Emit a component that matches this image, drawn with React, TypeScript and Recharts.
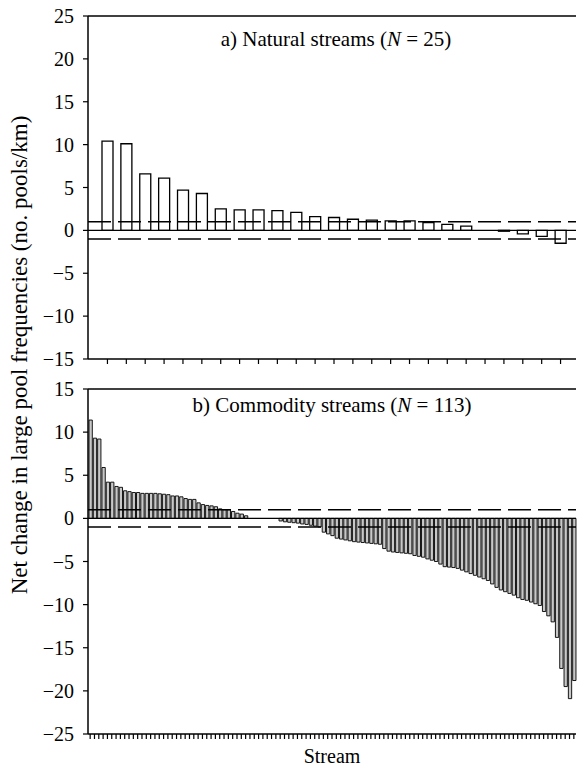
import React from 'react';
import { BarChart, Bar, XAxis, YAxis, ReferenceLine, Label } from 'recharts';

const FONT = 'Liberation Serif, Tinos, DejaVu Serif, serif';

// a) Natural streams, sorted net change (no. pools/km)
const naturalValues = [
  10.4, 10.1, 6.6, 6.1, 4.7, 4.3, 2.5, 2.4, 2.4, 2.3,
  2.1, 1.6, 1.5, 1.3, 1.2, 1.1, 1.1, 0.9, 0.7, 0.5,
  0, -0.1, -0.4, -0.7, -1.5,
];

// b) Commodity streams, sorted net change (no. pools/km)
const commodityValues = [
  11.4, 9.3, 9.2, 5.9, 4.2, 4.2, 3.7, 3.6, 3.2, 3.1,
  3.0, 3.0, 2.9, 2.9, 2.9, 2.9, 2.85, 2.8, 2.75, 2.6,
  2.6, 2.5, 2.3, 2.2, 2.2, 1.8, 1.6, 1.5, 1.45, 1.35,
  1.1, 1.0, 1.0, 0.8, 0.6, 0.5, 0.3, 0, 0, 0,
  0, 0, 0, 0, -0.3, -0.4, -0.45, -0.5, -0.55, -0.65,
  -0.7, -0.8, -0.9, -1.0, -1.6, -1.8, -2.0, -2.3, -2.4, -2.5,
  -2.6, -2.7, -2.75, -2.8, -2.85, -2.9, -2.95, -3.0, -3.5, -3.8,
  -3.9, -3.95, -4.0, -4.05, -4.1, -4.3, -4.4, -4.5, -4.7, -4.85,
  -5.0, -5.3, -5.6, -5.65, -5.7, -5.8, -6.0, -6.2, -6.4, -6.6,
  -6.8, -7.0, -7.2, -7.6, -8.0, -8.3, -8.5, -8.7, -8.9, -9.2,
  -9.4, -9.5, -9.7, -9.9, -10.1, -10.8, -11.3, -12.0, -13.8, -17.4,
  -19.5, -20.9, -18.8,
];

const naturalTicks = [25, 20, 15, 10, 5, 0, -5, -10, -15];
const commodityTicks = [15, 10, 5, 0, -5, -10, -15, -20, -25];
const thresholds = [1, -1];

const naturalTitle = ['a) Natural streams (', 'N', ' = 25)'];
const commodityTitle = ['b) Commodity streams (', 'N', ' = 113)'];
const yLabel = 'Net change in large pool frequencies (no. pools/km)';
const xLabel = 'Stream';

const naturalData = naturalValues.map((v, i) => ({ stream: i + 1, value: v }));
const commodityData = commodityValues.map((v, i) => ({ stream: i + 1, value: v }));

const fmt = (v: number) => (v < 0 ? '\u2212' + Math.abs(v) : String(v));
const tickStyle = { fill: '#000', fontSize: 20, fontFamily: FONT };
const axisLine = { stroke: '#000', strokeWidth: 1.5 };
const tickLine = { stroke: '#000', strokeWidth: 1.2 };

function Panel({ data, ticks, domain, top, height, marginTop, xHeight, barSize, barStroke, barFill, showX }: any) {
  return (
    <div style={{ position: 'absolute', left: 0, top, fontFamily: FONT }}>
      <BarChart
        width={577}
        height={height}
        data={data}
        margin={{ top: marginTop, right: 1, bottom: 0, left: 0 }}
        barCategoryGap={0}
      >
        <XAxis
          dataKey="stream"
          type="category"
          interval={0}
          tickFormatter={() => ''}
          tickSize={5}
          tickLine={tickLine}
          axisLine={axisLine}
          height={xHeight}
          padding={showX ? { left: 0, right: 0 } : { left: 10, right: 6 }}
        >
          {showX ? (
            <Label value={xLabel} position="insideBottom" offset={4} style={{ fill: '#000', fontSize: 20, fontFamily: FONT }} />
          ) : null}
        </XAxis>
        <YAxis
          type="number"
          domain={domain}
          ticks={ticks}
          interval={0}
          allowDataOverflow
          width={88}
          tick={tickStyle}
          tickFormatter={fmt}
          tickSize={5}
          tickMargin={9}
          tickLine={tickLine}
          axisLine={axisLine}
        />
        <YAxis
          yAxisId="frame"
          orientation="right"
          type="number"
          domain={domain}
          width={0}
          tick={false}
          tickLine={false}
          axisLine={axisLine}
        />
        <Bar
          dataKey="value"
          fill={barFill}
          stroke="#000"
          strokeWidth={barStroke}
          barSize={barSize}
          isAnimationActive={false}
        />
        <ReferenceLine y={domain[1]} stroke="#000" strokeWidth={1.5} />
        <ReferenceLine y={0} stroke="#000" strokeWidth={1.1} />
        {thresholds.map((t) => (
          <ReferenceLine key={t} y={t} stroke="#000" strokeWidth={1.4} strokeDasharray="23 7" />
        ))}
      </BarChart>
    </div>
  );
}

export default function App() {
  return (
    <div style={{ position: 'absolute', left: 0, top: 0, width: 577, height: 767, background: '#fff', overflow: 'hidden', fontFamily: FONT }}>
      <Panel
        data={naturalData}
        ticks={naturalTicks}
        domain={[-15, 25]}
        top={0}
        height={372}
        marginTop={16}
        xHeight={13}
        barSize={11}
        barStroke={1.3}
        barFill="#fff"
        showX={false}
      />
      <Panel
        data={commodityData}
        ticks={commodityTicks}
        domain={[-25, 15]}
        top={372}
        height={395}
        marginTop={17}
        xHeight={33}
        barSize={3.3}
        barStroke={0.9}
        barFill="#c8c8c8"
        showX={true}
      />
      <svg
        width={577}
        height={767}
        style={{ position: 'absolute', left: 0, top: 0, pointerEvents: 'none', fontFamily: FONT }}
      >
        <text x={336} y={45.5} textAnchor="middle" fontSize={21} fill="#000" style={{ fontFamily: FONT }}>
          {naturalTitle[0]}
          <tspan fontStyle="italic">{naturalTitle[1]}</tspan>
          {naturalTitle[2]}
        </text>
        <text x={332} y={411.5} textAnchor="middle" fontSize={21} fill="#000" style={{ fontFamily: FONT }}>
          {commodityTitle[0]}
          <tspan fontStyle="italic">{commodityTitle[1]}</tspan>
          {commodityTitle[2]}
        </text>
        <text
          x={0}
          y={0}
          transform="translate(19.5 355) rotate(-90)"
          textAnchor="middle"
          dominantBaseline="central"
          fontSize={23}
          fill="#000"
          style={{ fontFamily: FONT }}
        >
          {yLabel}
        </text>
      </svg>
    </div>
  );
}
